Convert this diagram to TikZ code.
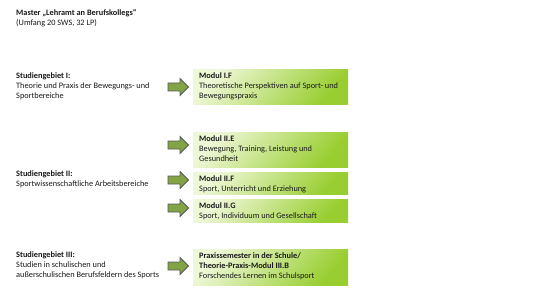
\documentclass[tikz,border=0pt]{standalone}
\usepackage{fontspec}
\setmainfont{Carlito}
\usetikzlibrary{positioning}
\definecolor{boxlight}{HTML}{EEF7D6}
\definecolor{boxmid}{HTML}{C2E27A}
\definecolor{boxdark}{HTML}{98CE30}
\definecolor{arrfill}{HTML}{82A444}
\definecolor{arrline}{HTML}{5A5A5A}
\definecolor{txt}{HTML}{1A1A1A}
\tikzset{
  every node/.style={font=\fontsize{8.3}{10}\selectfont, text=txt},
  lbl/.style={anchor=north west, inner sep=0pt, align=left},
  modbox/.style={anchor=north west, inner sep=0pt, minimum width=155pt, shading=axis, top color=boxlight, middle color=boxmid, bottom color=boxdark, shading angle=50},
  blockarrow/.style={fill=arrfill, draw=arrline, line width=0.8pt, line join=miter},
}
\newcommand{\blockarr}[1]{%
  \draw[blockarrow] (168,#1-4) -- (180,#1-4) -- (180,#1-8.5) -- (188.5,#1) -- (180,#1+8.5) -- (180,#1+4) -- (168,#1+4) -- cycle;}
\begin{document}
\begin{tikzpicture}[x=1pt,y=-1pt]
\useasboundingbox (0,0) rectangle (541,305);
\fill[white] (0,0) rectangle (541,305);

\node[lbl] (title) at (16,9) {\textbf{Master „Lehramt an Berufskollegs“}\\(Umfang 20 SWS, 32 LP)};

\node[lbl] (g1) at (16,72) {\textbf{Studiengebiet I:}\\Theorie und Praxis der Bewegungs- und\\Sportbereiche};
\node[lbl] (g2) at (16,170) {\textbf{Studiengebiet II:}\\Sportwissenschaftliche Arbeitsbereiche};
\node[lbl] (g3) at (16,251) {\textbf{Studiengebiet III:}\\Studien in schulischen und\\außerschulischen Berufsfeldern des Sports};

\node[modbox, minimum height=35pt] (b1) at (193,69) {};
\node[lbl] (t1) at (199,72) {\textbf{Modul I.F}\\Theoretische Perspektiven auf Sport- und\\Bewegungspraxis};

\node[modbox, minimum height=35pt] (b2) at (193,132) {};
\node[lbl] (t2) at (199,135) {\textbf{Modul II.E}\\Bewegung, Training, Leistung und\\Gesundheit};

\node[modbox, minimum height=22pt] (b3) at (193,172) {};
\node[lbl] (t3) at (199,175) {\textbf{Modul II.F}\\Sport, Unterricht und Erziehung};

\node[modbox, minimum height=23pt] (b4) at (193,199) {};
\node[lbl] (t4) at (199,202) {\textbf{Modul II.G}\\Sport, Individuum und Gesellschaft};

\node[modbox, minimum height=36pt] (b5) at (193,249) {};
\node[lbl] (t5) at (199,252) {\textbf{Praxissemester in der Schule/}\\\textbf{Theorie-Praxis-Modul III.B}\\Forschendes Lernen im Schulsport};

\blockarr{87}
\blockarr{145}
\blockarr{180}
\blockarr{208}
\blockarr{266}
\end{tikzpicture}
\end{document}
